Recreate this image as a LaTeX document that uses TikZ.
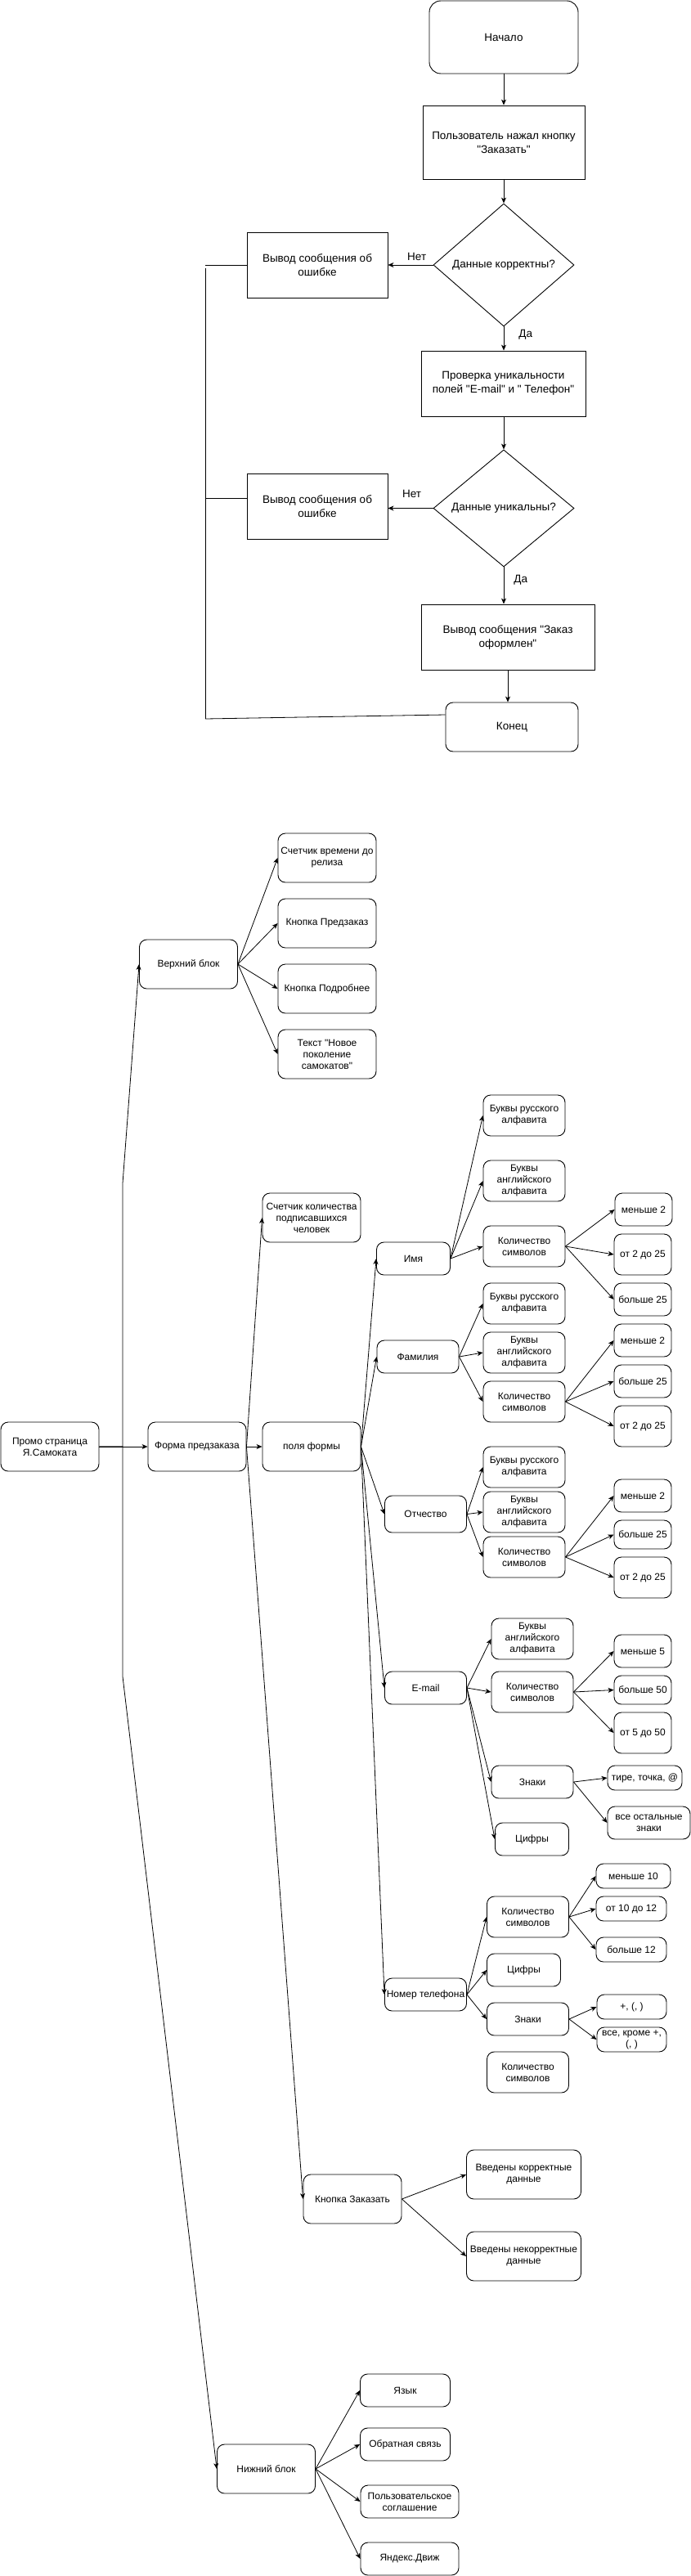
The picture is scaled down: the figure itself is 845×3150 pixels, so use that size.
\documentclass[tikz,border=0pt]{standalone}
\usepackage{fontspec}
\setmainfont{Liberation Sans}
\usetikzlibrary{arrows.meta,shapes.geometric}
\newcommand{\qq}{\textquotedbl}
\begin{document}
\begin{tikzpicture}[x=1pt,y=-1pt,
  sz/.style 2 args={minimum width=#1pt, minimum height=#2pt},
  fbox/.style={draw, line width=0.9pt, align=center, inner sep=0.5pt, font=\fontsize{13.5}{17}\selectfont},
  rbox/.style={draw, line width=0.9pt, rounded corners=9pt, align=center, inner sep=0.5pt, font=\fontsize{12}{14}\selectfont},
  arr/.style={-{Stealth[length=7pt,width=6pt,inset=2pt]}, line width=0.8pt},
  ln/.style={line width=0.8pt},
  lbl/.style={font=\fontsize{13.5}{16}\selectfont, inner sep=1pt}
]
\useasboundingbox (0,0) rectangle (845,3150);

% ---------------- flowchart ----------------
\node[fbox, rounded corners=14pt, sz={182}{89}] (start) at (616,45.5) {Начало};
\node[fbox, sz={198}{90}] (user) at (616,174) {Пользователь нажал кнопку\\\qq Заказать\qq};
\node[fbox, diamond, inner sep=0pt, sz={172}{150}] (d1) at (616,324) {Данные корректны?};
\node[fbox, sz={172}{80}] (err1) at (388,324) {Вывод сообщения об\\ошибке};
\node[fbox, sz={201}{80}] (check) at (615.5,469) {Проверка уникальности\\полей \qq E-mail\qq{} и \qq{} Телефон\qq};
\node[fbox, diamond, inner sep=0pt, sz={172}{143}] (d2) at (616,621.5) {Данные уникальны?};
\node[fbox, sz={172}{80}] (err2) at (388,619) {Вывод сообщения об\\ошибке};
\node[fbox, sz={212}{80}] (done) at (621,779) {Вывод сообщения \qq Заказ\\оформлен\qq};
\node[fbox, rounded corners=9pt, sz={162}{60}] (fin) at (626,889) {Конец};

\draw[arr] (start) -- (user);
\draw[arr] (user) -- (d1);
\draw[arr] (d1.west) -- node[lbl, pos=0.36, above, yshift=4pt] {Нет} (err1.east);
\draw[arr] (d1.south) -- node[lbl, pos=0.35, right, xshift=17pt] {Да} (d1.south |- check.north);
\draw[arr] (check.south -| d2.north) -- (d2.north);
\draw[arr] (d2.west) -- node[lbl, pos=0.47, above, yshift=11pt] {Нет} (d2.west -| err2.east);
\draw[arr] (d2.south) -- node[lbl, pos=0.35, right, xshift=11pt] {Да} (d2.south |- done.north);
\draw[arr] (done.south) -- (done.south |- fin.north);

\coordinate (v1) at (251,324);
\coordinate (v1b) at (251,328);
\coordinate (v2) at (251,609);
\coordinate (v3) at (251,879);
\draw[ln] (err1.west) -- (v1);
\draw[ln] (v1b) -- (v3);
\draw[ln] (err2.west |- v2) -- (v2);
\draw[ln] ([yshift=15pt]fin.west) -- (v3);

% ---------------- tree ----------------
\node[rbox, sz={120}{60}] (promo) at (61,1769) {Промо страница\\Я.Самоката};
\node[rbox, sz={120}{60}] (forma) at (241,1769) {Форма предзаказа};
\node[rbox, sz={120}{60}] (pola) at (381,1769) {поля формы};

\node[rbox, sz={120}{60}] (top) at (230.5,1179) {Верхний блок};
\node[rbox, sz={120}{60}] (t1) at (400,1049) {Счетчик времени до\\релиза};
\node[rbox, sz={120}{60}] (t2) at (400,1129) {Кнопка Предзаказ};
\node[rbox, sz={120}{60}] (t3) at (400,1209) {Кнопка Подробнее};
\node[rbox, sz={120}{60}] (t4) at (400,1289) {Текст \qq Новое\\поколение\\самокатов\qq};

\node[rbox, sz={120}{60}] (schet) at (381,1489) {Счетчик количества\\подписавшихся\\человек};

% Имя
\node[rbox, sz={90}{40}] (imya) at (505.5,1539) {Имя};
\node[rbox, sz={100}{50}] (i1) at (641,1364) {Буквы русского\\алфавита};
\node[rbox, sz={100}{50}] (i2) at (641,1444) {Буквы\\английского\\алфавита};
\node[rbox, sz={100}{50}] (i3) at (641,1524) {Количество\\символов};
\node[rbox, sz={70}{40}] (i31) at (787,1479) {меньше 2};
\node[rbox, sz={70}{50}] (i32) at (786,1534) {от 2 до 25};
\node[rbox, sz={70}{40}] (i33) at (786,1589) {больше 25};

% Фамилия
\node[rbox, sz={100}{40}] (fam) at (511,1659) {Фамилия};
\node[rbox, sz={100}{50}] (f1) at (641,1594) {Буквы русского\\алфавита};
\node[rbox, sz={100}{50}] (f2) at (641,1654) {Буквы\\английского\\алфавита};
\node[rbox, sz={100}{50}] (f3) at (641,1714) {Количество\\символов};
\node[rbox, sz={70}{40}] (f31) at (786,1639) {меньше 2};
\node[rbox, sz={70}{40}] (f32) at (786,1689) {больше 25};
\node[rbox, sz={70}{50}] (f33) at (786,1744) {от 2 до 25};

% Отчество
\node[rbox, sz={100}{45}] (otch) at (520.5,1851.5) {Отчество};
\node[rbox, sz={100}{50}] (o1) at (641,1794) {Буквы русского\\алфавита};
\node[rbox, sz={100}{50}] (o2) at (641,1849) {Буквы\\английского\\алфавита};
\node[rbox, sz={100}{50}] (o3) at (641,1904) {Количество\\символов};
\node[rbox, sz={70}{40}] (o31) at (786,1829) {меньше 2};
\node[rbox, sz={70}{35}] (o32) at (786,1876.5) {больше 25};
\node[rbox, sz={70}{50}] (o33) at (786,1929) {от 2 до 25};

% E-mail
\node[rbox, sz={100}{40}] (email) at (520.5,2064) {E-mail};
\node[rbox, sz={100}{50}] (e1) at (651,2004) {Буквы\\английского\\алфавита};
\node[rbox, sz={100}{50}] (e2) at (651,2069) {Количество\\символов};
\node[rbox, sz={100}{40}] (e3) at (651,2179) {Знаки};
\node[rbox, sz={90}{40}] (e4) at (650.5,2249) {Цифры};
\node[rbox, sz={70}{40}] (e21) at (786,2019) {меньше 5};
\node[rbox, sz={70}{35}] (e22) at (786,2066.5) {больше 50};
\node[rbox, sz={70}{50}] (e23) at (786,2119) {от 5 до 50};
\node[rbox, sz={91}{30}] (e31) at (788.5,2174) {тире, точка, @};
\node[rbox, sz={101}{40}] (e32) at (793.5,2229) {все остальные\\знаки};

% Номер телефона
\node[rbox, sz={100}{40}] (tel) at (520.5,2439) {Номер телефона};
\node[rbox, sz={100}{50}] (p1) at (645.5,2344) {Количество\\символов};
\node[rbox, sz={90}{40}] (p2) at (640.5,2409) {Цифры};
\node[rbox, sz={100}{40}] (p3) at (645.5,2469) {Знаки};
\node[rbox, sz={100}{50}] (p4) at (645.5,2534) {Количество\\символов};
\node[rbox, sz={91}{30}] (p11) at (774.5,2294) {меньше 10};
\node[rbox, sz={86}{30}] (p12) at (772,2334) {от 10 до 12};
\node[rbox, sz={86}{30}] (p13) at (772,2384) {больше 12};
\node[rbox, sz={85}{30}] (p31) at (772.5,2454) {+, (, )};
\node[rbox, sz={85}{30}] (p32) at (772.5,2494) {все, кроме +,\\(, )};

% Кнопка Заказать
\node[rbox, sz={120}{60}] (knopka) at (431,2689) {Кнопка Заказать};
\node[rbox, sz={140}{60}] (k1) at (640.5,2659) {Введены корректные\\данные};
\node[rbox, sz={140}{60}] (k2) at (640.5,2759) {Введены некорректные\\данные};

% Нижний блок
\node[rbox, sz={120}{60}] (niz) at (325.5,3019) {Нижний блок};
\node[rbox, sz={110}{40}] (n1) at (495.5,2923) {Язык};
\node[rbox, sz={110}{40}] (n2) at (495.5,2989) {Обратная связь};
\node[rbox, sz={120}{40}] (n3) at (501,3059) {Пользовательское\\соглашение};
\node[rbox, sz={120}{40}] (n4) at (501,3129) {Яндекс.Движ};

% connectors
\coordinate (jn) at (150,1769);
\coordinate (bt) at (150,1447);
\coordinate (bb) at (150,2050);
\draw[arr] (promo.east) -- (forma.west);
\draw[arr] (promo.east) -- (jn) -- (bt) -- (top.west);
\draw[arr] (promo.east) -- (jn) -- (bb) -- (niz.west);

\foreach \a/\b in {top/t1,top/t2,top/t3,top/t4,
  forma/schet,forma/pola,forma/knopka,
  pola/imya,pola/fam,pola/otch,pola/email,pola/tel,
  imya/i1,imya/i2,imya/i3,i3/i31,i3/i32,i3/i33,
  fam/f1,fam/f2,fam/f3,f3/f31,f3/f32,f3/f33,
  otch/o1,otch/o2,otch/o3,o3/o31,o3/o32,o3/o33,
  email/e1,email/e2,email/e3,email/e4,e2/e21,e2/e22,e2/e23,e3/e31,e3/e32,
  tel/p1,tel/p2,tel/p3,p1/p11,p1/p12,p1/p13,p3/p31,p3/p32,
  knopka/k1,knopka/k2,
  niz/n1,niz/n2,niz/n3,niz/n4}
  \draw[arr] (\a.east) -- (\b.west);
\end{tikzpicture}
\end{document}
